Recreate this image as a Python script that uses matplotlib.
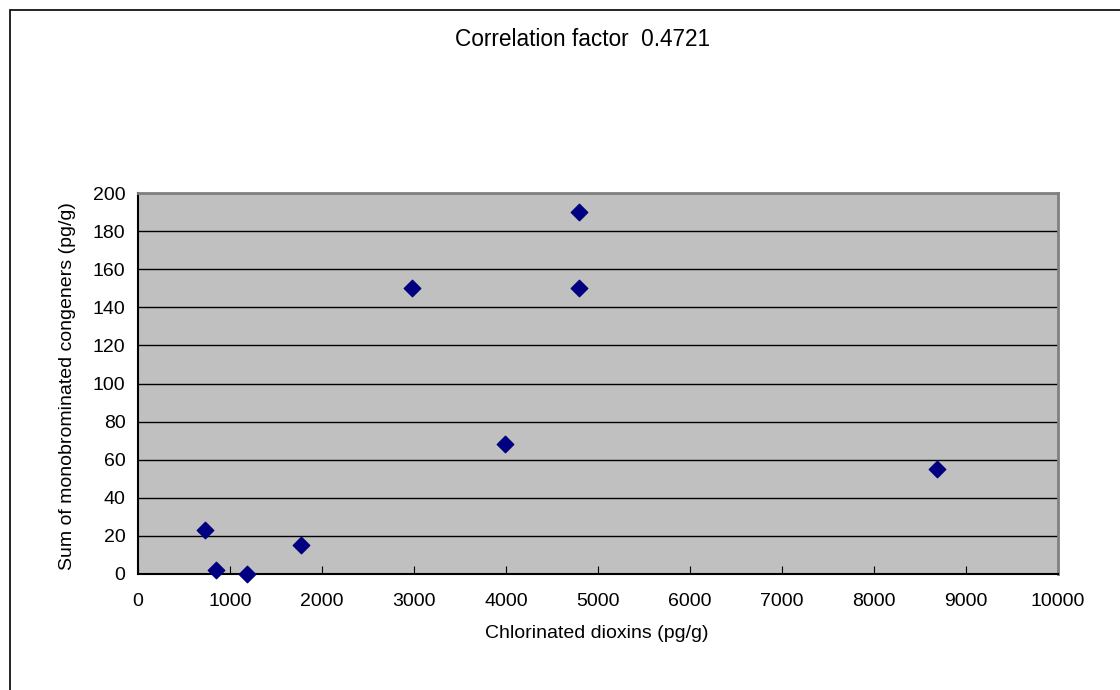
import matplotlib
matplotlib.use("Agg")
import matplotlib.pyplot as plt
from matplotlib.patches import Rectangle

chlorinated = [730, 850, 1190, 1770, 2980, 3990, 4790, 4790, 8690]
monobrominated = [23, 2, 0, 15, 150, 68, 190, 150, 55]
x_ticks = [0, 1000, 2000, 3000, 4000, 5000, 6000, 7000, 8000, 9000, 10000]
y_ticks = [0, 20, 40, 60, 80, 100, 120, 140, 160, 180, 200]

plt.rcParams['font.family'] = ['Liberation Sans', 'DejaVu Sans']

W, H = 1120, 690
fig = plt.figure(figsize=(W / 100, H / 100), dpi=100)
fig.patches.append(Rectangle((10 / W, -0.1), 1.2, 1 - 10 / H + 0.1,
                             transform=fig.transFigure, fill=False,
                             edgecolor='black', linewidth=1.2))

ax = fig.add_axes([138 / W, (H - 574) / H, (1058 - 138) / W, (574 - 193) / H])
ax.set_facecolor('#c0c0c0')
ax.set_xlim(0, 10000)
ax.set_ylim(0, 200)
ax.set_xticks(x_ticks)
ax.set_yticks(y_ticks)
ax.yaxis.grid(True, color='black', linewidth=1)
ax.set_axisbelow(True)
for s in ['top', 'right']:
    ax.spines[s].set_color('#808080')
    ax.spines[s].set_linewidth(2)
for s in ['left', 'bottom']:
    ax.spines[s].set_color('black')
    ax.spines[s].set_linewidth(1.5)
ax.tick_params(axis='x', direction='in', length=6, labelsize=14, pad=14)
ax.tick_params(axis='y', direction='in', length=0, labelsize=14, pad=9)

ax.scatter(chlorinated, monobrominated, marker='D', s=70, color='#000080',
           zorder=3, clip_on=False)

fig.text(583 / W, 1 - 40 / H, 'Correlation factor  0.4721', ha='center',
         va='center', fontsize=16.3)
fig.text(597 / W, 1 - 634 / H, 'Chlorinated dioxins (pg/g)', ha='center',
         va='center', fontsize=14)
fig.text(68 / W, 1 - 386 / H, 'Sum of monobrominated congeners (pg/g)',
         ha='center', va='center', rotation=90, fontsize=14)

fig.savefig('out.png', dpi=100)
